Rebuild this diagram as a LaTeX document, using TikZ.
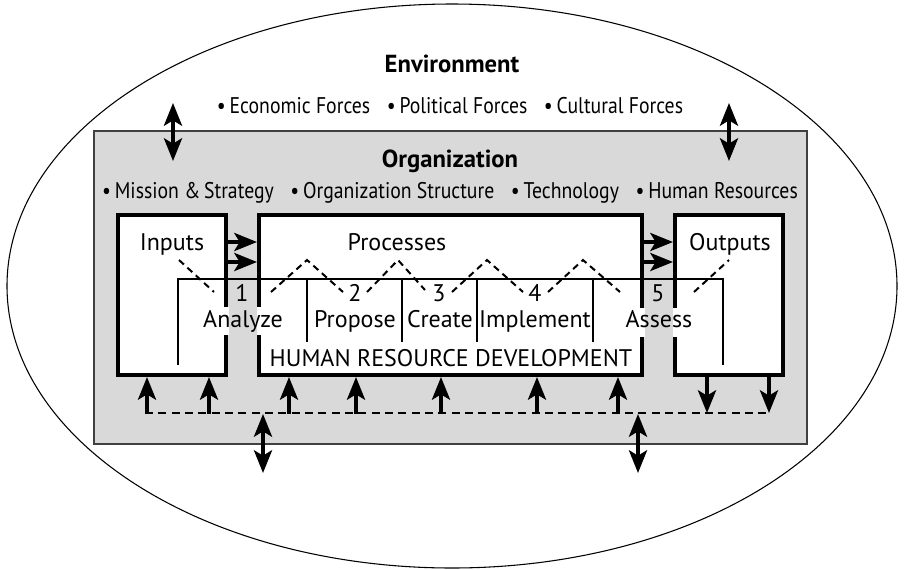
\documentclass[tikz,border=0pt]{standalone}
\usepackage{fontspec}
\setmainfont{PT Sans}
\newfontfamily\narrowfont[FakeStretch=0.87]{PT Sans}
\usetikzlibrary{arrows.meta}

\begin{document}
\begin{tikzpicture}[x=0.75pt,y=0.75pt,yscale=-1,xscale=1,
  hrdbox/.style={draw, fill=white, line width=3pt, inner sep=0pt, minimum height=120pt},
  fat/.style={line width=3pt, -{Stealth[length=17pt,width=13.5pt,inset=4pt]}},
  fatboth/.style={line width=3pt, {Stealth[length=17pt,width=13.5pt,inset=4pt]}-{Stealth[length=17pt,width=13.5pt,inset=4pt]}},
  zig/.style={line width=1.5pt, dash pattern=on 5pt off 3.5pt},
  feed/.style={line width=2pt, dash pattern=on 6pt off 4pt},
  thin/.style={line width=1.5pt},
  lbl/.style={anchor=base, inner sep=0.75pt, font=\fontsize{18}{21}\selectfont},
  toplbl/.style={anchor=base, inner sep=0.75pt, font=\narrowfont\fontsize{17}{20}\selectfont},
  titlelbl/.style={anchor=base, inner sep=0.75pt, font=\bfseries\fontsize{18.5}{22}\selectfont}]

\useasboundingbox (0,0) rectangle (904,569);

\draw [line width=0.8pt] (452,286) ellipse [x radius=445, y radius=282];

\draw [draw=black!75, fill=gray!30, line width=1pt] (94,131) rectangle (807,444);

\node [hrdbox, minimum width=81pt] (inputs) at (172,295) {};

\node [hrdbox, minimum width=287.25pt] (processes) at (450.5,295) {};

\node [hrdbox, minimum width=81pt] (outputs) at (729,295) {};

\draw [thin] (178,365) -- (178,279) -- (723,279) -- (723,365);

\foreach \x in {307,402,477,593} { \draw [thin] (\x,279) -- (\x,342); }

\draw [zig] (179,260) -- (214,292);
\draw [zig] (271,292) -- (307,260) -- (343,292);
\draw [zig] (367,292) -- (398,260) -- (425,290);
\draw [zig] (452,292) -- (487,260) -- (523,292);
\draw [zig] (548,292) -- (583,260) -- (620,292);
\draw [zig] (694,292) -- (729,260);

\fill [white] (220,307) rectangle (228.5,335);
\fill [white] (256.5,307) rectangle (264,335);
\fill [white] (636,308) rectangle (644.5,337);
\fill [white] (672.5,308) rectangle (681,337);

\draw [fat] (inputs.east |- 0,242) -- (processes.west |- 0,242);
\draw [fat] (inputs.east |- 0,262) -- (processes.west |- 0,262);
\draw [fat] (processes.east |- 0,242) -- (outputs.west |- 0,242);
\draw [fat] (processes.east |- 0,262) -- (outputs.west |- 0,262);

\coordinate (fbl) at (145,413);
\coordinate (fbr) at (770,413);
\draw [feed] (fbl) -- (fbr);

\foreach \x in {147,209} { \draw [fat] (\x,414) -- (inputs.south -| \x,0); }
\foreach \x in {289,356,441,537,618} { \draw [fat] (\x,414) -- (processes.south -| \x,0); }
\foreach \x in {707,769} { \draw [fat] (outputs.south -| \x,0) -- (\x,413); }

\draw [fatboth] (263,414) -- (263,473);
\draw [fatboth] (638,414) -- (638,473);
\draw [fatboth] (173,103) -- (173,161);
\draw [fatboth] (729,103) -- (729,161);

\draw (452,72) node [titlelbl] (envlbl) {Environment};
\draw (450,113) node [toplbl] (envforces) {•\,Economic Forces\hspace{0.5em} •\,Political Forces\hspace{0.5em} •\,Cultural Forces};
\draw (450,167) node [titlelbl] (orglbl) {Organization};
\draw (450,198) node [toplbl] (orgparts) {•\,Mission \&\,Strategy\hspace{0.5em} •\,Organization Structure\hspace{0.5em} •\,Technology\hspace{0.5em} •\,Human Resources};

\draw (172,250) node [lbl] (inlbl) {Inputs};
\draw (397,250) node [lbl] (proclbl) {Processes};
\draw (730,250) node [lbl] (outlbl) {Outputs};

\draw (242,301) node [lbl] (n1) {1};
\draw (355,301) node [lbl] (n2) {2};
\draw (439,301) node [lbl] (n3) {3};
\draw (535,301) node [lbl] (n4) {4};
\draw (658,301) node [lbl] (n5) {5};

\draw (243,327) node [lbl] (analyze) {Analyze};
\draw (355,327) node [lbl] (propose) {Propose};
\draw (440,327) node [lbl] (create) {Create};
\draw (535,327) node [lbl] (implement) {Implement};
\draw (659,327) node [lbl] (assess) {Assess};

\draw (451,366) node [lbl] (hrd) {HUMAN RESOURCE DEVELOPMENT};

\end{tikzpicture}
\end{document}
